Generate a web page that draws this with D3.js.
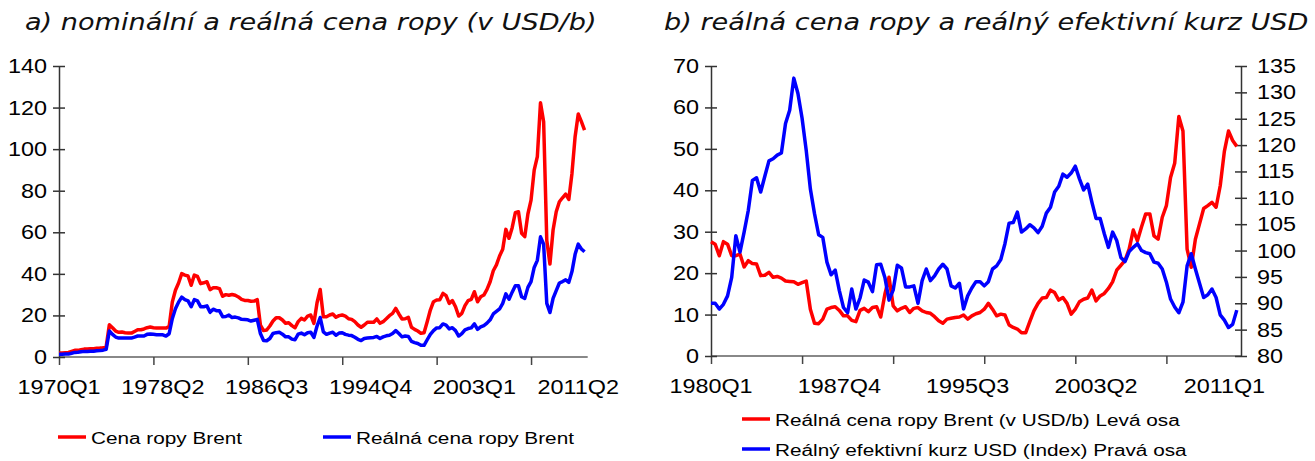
<!DOCTYPE html>
<html>
<head>
<meta charset="utf-8">
<script src="https://cdn.jsdelivr.net/npm/d3@7"></script>
<style>
  body { margin: 0; background: #fff; }
  text { font-family: "Liberation Sans", Arial, sans-serif; fill: #000; }
  .title { font-family: "DejaVu Sans", Verdana, sans-serif; font-style: italic; fill: #111; }
</style>
</head>
<body>
<svg id="chart" width="1315" height="461"></svg>
<script>
// quarterly data, chart a) 1970Q1-2011Q4, chart b) 1980Q1-2011Q4
const nominalPrice = [
  1.9, 1.9, 2.1, 2.2, 2.7, 3.2, 3.2, 3.5, 3.8, 3.8, 4.0, 4.0, 4.2, 4.3, 4.5, 5.1,
  15.5, 14.1, 12.5, 11.9, 12.0, 11.7, 11.5, 11.5, 12.3, 13.1, 13.1, 13.5, 14.1, 14.4, 14.1, 13.9,
  13.9, 13.9, 13.9, 14.7, 26.4, 32.1, 35.6, 40.1, 39.4, 39.0, 34.5, 39.4, 38.8, 35.3, 35.7, 36.2,
  32.4, 33.3, 33.3, 32.9, 29.2, 30.0, 29.7, 30.1, 29.7, 28.9, 27.7, 27.2, 27.2, 26.8, 26.9, 27.6,
  15.4, 12.7, 13.0, 14.9, 17.3, 18.9, 18.9, 17.8, 16.2, 16.5, 15.1, 14.1, 17.0, 18.6, 17.8, 19.7,
  20.2, 16.2, 26.1, 32.5, 19.4, 19.4, 20.2, 20.7, 19.1, 19.9, 20.2, 19.7, 18.4, 18.1, 17.0, 15.4,
  14.3, 15.4, 16.7, 16.7, 16.7, 18.3, 16.2, 17.0, 18.4, 19.9, 21.0, 23.4, 20.7, 18.3, 18.4, 19.1,
  14.3, 13.3, 12.5, 11.4, 11.7, 17.0, 22.6, 26.6, 27.4, 27.5, 30.6, 29.5, 25.8, 27.1, 24.2, 19.7,
  21.0, 24.7, 27.1, 27.7, 31.4, 26.6, 29.0, 29.8, 32.5, 36.2, 41.5, 44.3, 48.6, 51.8, 61.4, 57.1,
  62.2, 69.4, 69.9, 59.5, 57.9, 68.8, 75.5, 89.9, 96.4, 122.3, 113.2, 56.0, 44.7, 61.1, 69.9, 74.7,
  76.6, 78.4, 75.8, 88.3, 106.0, 116.9, 113.2, 109.2
];
const realPriceEarly = [
  1.3, 1.3, 1.4, 1.4, 1.8, 2.2, 2.3, 2.5, 2.7, 2.7, 2.8, 2.8, 3.0, 3.1, 3.3, 3.7,
  12.5, 10.9, 9.6, 9.1, 9.1, 9.1, 9.1, 9.1, 9.6, 10.1, 10.1, 10.1, 10.9, 11.1, 10.9, 10.7,
  10.7, 10.7, 10.1, 11.2, 18.4, 23.2, 26.4, 28.8
];
const realPrice = [
  27.6, 27.0, 24.2, 27.6, 27.0, 24.2, 24.2, 24.6, 21.5, 23.0, 22.3, 22.2, 19.4, 19.5, 20.2, 19.0,
  19.2, 18.8, 18.1, 18.0, 17.9, 17.3, 17.7, 18.1, 11.3, 7.9, 7.8, 8.9, 11.3, 11.7, 11.9, 11.0,
  9.7, 9.7, 8.6, 8.3, 11.0, 11.5, 10.7, 11.7, 11.9, 9.4, 14.9, 19.0, 12.1, 10.9, 11.5, 11.9,
  10.5, 11.5, 11.7, 10.9, 10.5, 10.3, 9.5, 8.5, 7.9, 8.9, 9.1, 9.3, 9.4, 9.9, 8.9, 9.7,
  10.2, 10.5, 11.3, 12.7, 11.3, 9.7, 10.1, 9.9, 7.5, 6.9, 6.5, 5.6, 5.6, 8.3, 10.9, 12.7,
  14.0, 14.1, 15.9, 15.3, 13.5, 14.1, 12.7, 10.1, 11.3, 13.1, 13.7, 14.0, 15.9, 13.3, 14.5, 15.1,
  16.3, 17.9, 20.7, 21.9, 23.1, 25.8, 30.4, 27.8, 31.2, 34.3, 34.3, 29.0, 28.2, 33.5, 36.3, 43.1,
  46.5, 57.8, 54.3, 25.8, 21.4, 28.2, 31.9, 35.6, 36.3, 37.1, 35.9, 41.1, 49.4, 54.3, 52.0, 50.6
];
const reerUsd = [
  90.0, 90.0, 88.9, 89.8, 91.4, 94.9, 102.8, 99.7, 103.5, 107.6, 113.3, 113.8, 111.1, 114.1, 117.0, 117.4,
  118.1, 118.5, 124.1, 126.6, 132.7, 129.8, 125.1, 119.0, 111.7, 107.0, 103.0, 102.5, 97.8, 95.4, 96.3, 92.4,
  89.2, 88.2, 92.7, 88.9, 91.0, 94.4, 94.0, 92.2, 97.3, 97.4, 94.9, 90.6, 92.5, 97.2, 96.7, 93.1,
  93.1, 93.3, 90.0, 94.3, 96.5, 94.3, 95.2, 96.5, 97.4, 96.5, 93.3, 92.9, 93.8, 88.9, 91.4, 92.9,
  94.1, 94.1, 93.3, 94.1, 96.5, 97.1, 98.3, 101.3, 105.2, 105.3, 107.3, 103.5, 104.1, 104.9, 104.3, 103.4,
  104.6, 107.1, 108.2, 111.1, 112.2, 114.5, 113.9, 114.7, 116.0, 113.6, 111.5, 112.6, 109.2, 106.1, 106.1, 103.2,
  100.6, 103.5, 101.9, 98.7, 97.9, 99.8, 100.6, 101.3, 100.0, 99.6, 99.4, 97.8, 97.6, 96.5, 94.0, 90.8,
  89.3, 88.2, 90.2, 97.1, 99.4, 96.5, 93.8, 91.1, 91.6, 92.7, 91.1, 87.8, 86.8, 85.4, 86.0, 88.7
];

const labelsA = ['1970Q1', '1978Q2', '1986Q3', '1994Q4', '2003Q1', '2011Q2'];
const labelsB = ['1980Q1', '1987Q4', '1995Q3', '2003Q2', '2011Q1'];
const ticksA = [0, 20, 40, 60, 80, 100, 120, 140];
const ticksBLeft = [0, 10, 20, 30, 40, 50, 60, 70];
const ticksBRight = [80, 85, 90, 95, 100, 105, 110, 115, 120, 125, 130, 135];

const titleA = 'a) nominální a reálná cena ropy (v USD/b)';
const titleB = 'b) reálná cena ropy a reálný efektivní kurz USD';
const legendA = ['Cena ropy Brent', 'Reálná cena ropy Brent'];
const legendB = ['Reálná cena ropy Brent (v USD/b) Levá osa', 'Reálný efektivní kurz USD (Index) Pravá osa'];

function quarters(fromYear, toYear) {
  let out = [];
  for (let y = fromYear; y <= toYear; y++) for (let q = 1; q <= 4; q++) out.push(y + 'Q' + q);
  return out;
}
const quartersA = quarters(1970, 2011);
const quartersB = quarters(1980, 2011);
const realPriceA = realPriceEarly.concat(realPrice);

const RED = '#ff0000', BLUE = '#0000ff';
const SX = 1.2; // text in the original is stretched horizontally
const tickFont = 19.5, legendFont = 17.3, titleFont = 22.6;

const svg = d3.select('#chart');
svg.append('rect').attr('width', 1315).attr('height', 461).attr('fill', '#fff');

function txt(g, x, y, str, size, anchor) {
  return g.append('text')
    .attr('transform', `translate(${x},${y}) scale(${SX},1)`)
    .attr('text-anchor', anchor || 'start')
    .style('font-size', size + 'px')
    .text(str);
}

function yAxis(g, scale, ticks, x, side) {
  let ax = (side === 'left' ? d3.axisLeft(scale) : d3.axisRight(scale))
    .tickValues(ticks).tickSize(6).tickFormat('').tickSizeOuter(0);
  let a = g.append('g').attr('transform', `translate(${x},0)`).call(ax);
  a.select('.domain').attr('stroke', '#333').attr('stroke-width', 1.5);
  a.selectAll('.tick line').attr('stroke', '#333').attr('stroke-width', 1.5)
    .attr('x1', side === 'left' ? 6 : -6);
  ticks.forEach(t => {
    if (side === 'left') txt(g, x - 12, scale(t) + 7, t, tickFont, 'end');
    else txt(g, x + 16, scale(t) + 7, t, tickFont, 'start');
  });
}

function xAxis(g, scale, tickEvery, labels, y) {
  let dom = scale.domain();
  let ax = d3.axisBottom(scale)
    .tickValues(dom.filter((d, i) => i % tickEvery === 0))
    .tickSize(8).tickSizeOuter(0).tickFormat('');
  let a = g.append('g').attr('transform', `translate(0,${y})`).call(ax);
  a.select('.domain').attr('stroke', '#888').attr('stroke-width', 2)
    .attr('d', `M${scale.range()[0]},0H${scale.range()[1] + scale.step()}`);
  a.selectAll('.tick line').attr('stroke', '#444').attr('stroke-width', 1.5);
  labels.forEach(l => txt(g, scale(l), y + 37, l, tickFont, 'middle'));
}

function legendItem(g, x, y, color, label) {
  g.append('line').attr('x1', x).attr('x2', x + 28).attr('y1', y).attr('y2', y)
    .attr('stroke', color).attr('stroke-width', 3.5);
  txt(g, x + 33, y + 6.5, label, legendFont, 'start');
}

// ---- chart a
const gA = svg.append('g');
const xA = d3.scalePoint().domain(quartersA).range([59, 59 + 167 * 3.147]);
const yA = d3.scaleLinear().domain([0, 140]).range([357, 66]);
const lineA = d3.line().x((d, i) => xA(quartersA[i])).y(d => yA(d));

xAxis(gA, xA, 30, labelsA, 357);
yAxis(gA, yA, ticksA, 59, 'left');

gA.append('path').datum(nominalPrice).attr('d', lineA)
  .attr('fill', 'none').attr('stroke', RED).attr('stroke-width', 3.5).attr('stroke-linejoin', 'round');
gA.append('path').datum(realPriceA).attr('d', lineA)
  .attr('fill', 'none').attr('stroke', BLUE).attr('stroke-width', 3.5).attr('stroke-linejoin', 'round');

txt(gA, 25, 30, titleA, titleFont, 'start').attr('class', 'title');
legendItem(gA, 58, 437, RED, legendA[0]);
legendItem(gA, 323, 437, BLUE, legendA[1]);

// ---- chart b
const gB = svg.append('g');
const xB = d3.scalePoint().domain(quartersB).range([711, 711 + 127 * 4.14]);
const yBL = d3.scaleLinear().domain([0, 70]).range([356, 66]);
const yBR = d3.scaleLinear().domain([80, 135]).range([356, 66]);

xAxis(gB, xB, 22, labelsB, 356);
yAxis(gB, yBL, ticksBLeft, 711, 'left');
yAxis(gB, yBR, ticksBRight, 1241, 'right');

gB.append('path').datum(realPrice)
  .attr('d', d3.line().x((d, i) => xB(quartersB[i])).y(d => yBL(d)))
  .attr('fill', 'none').attr('stroke', RED).attr('stroke-width', 3.5).attr('stroke-linejoin', 'round');
gB.append('path').datum(reerUsd)
  .attr('d', d3.line().x((d, i) => xB(quartersB[i])).y(d => yBR(d)))
  .attr('fill', 'none').attr('stroke', BLUE).attr('stroke-width', 3.5).attr('stroke-linejoin', 'round');

txt(gB, 664, 30, titleB, titleFont, 'start').attr('class', 'title');
legendItem(gB, 742, 419, RED, legendB[0]);
legendItem(gB, 742, 449, BLUE, legendB[1]);
</script>
</body>
</html>
